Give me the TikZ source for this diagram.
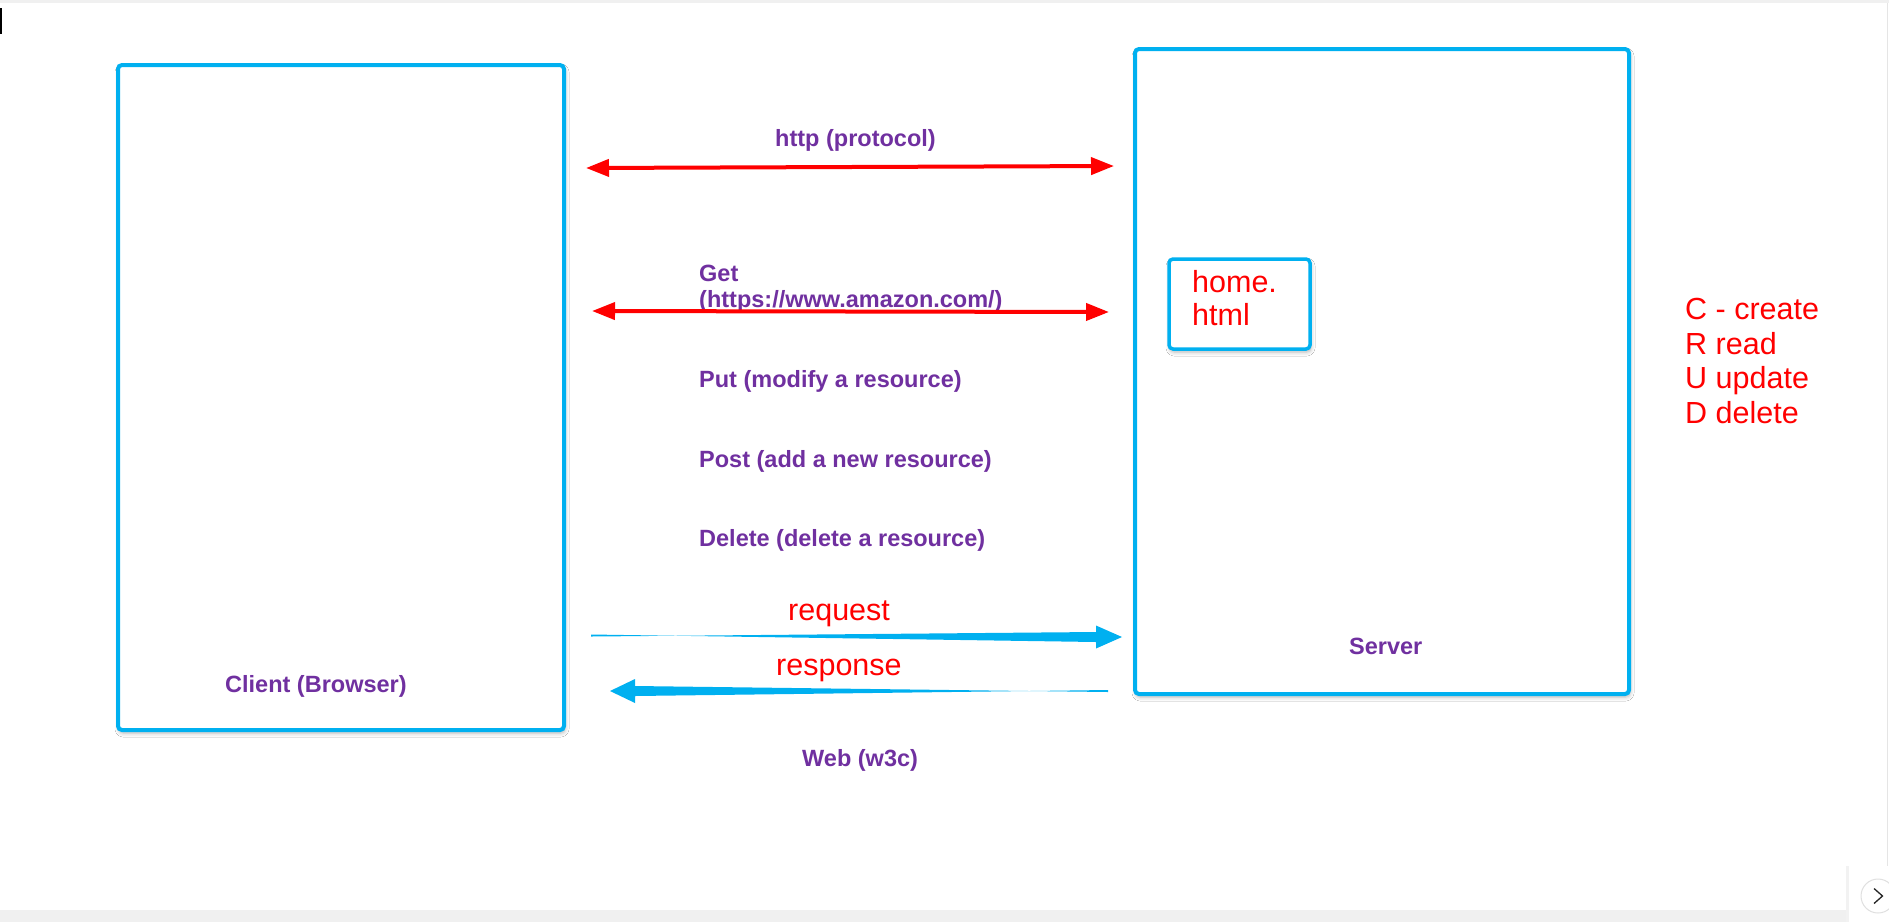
\documentclass[tikz,border=0pt]{standalone}
\usepackage{fontspec}
\setmainfont{Liberation Sans}
\usetikzlibrary{arrows.meta,shadows.blur}
\definecolor{cyanb}{HTML}{00B0F0}
\definecolor{purp}{HTML}{7030A0}
\definecolor{redc}{HTML}{FF0000}
\begin{document}
\begin{tikzpicture}[x=1pt,y=-1pt,
  boxst/.style={draw=cyanb, fill=white, line width=4pt, rounded corners=4pt, inner sep=0pt, outer sep=0pt, anchor=north west,
    blur shadow={shadow xshift=1pt, shadow yshift=-3pt, shadow blur radius=4pt, shadow opacity=30}},
  ptext/.style={anchor=base west, inner sep=0pt, text=purp, font=\fontsize{23.5}{26}\selectfont\bfseries},
  rtext/.style={anchor=base west, inner sep=0pt, text=redc, font=\fontsize{30.5}{34.7}\selectfont},
  redarrow/.style={draw=redc, line width=4pt, {Triangle[length=23pt,width=17pt]}-{Triangle[length=23pt,width=17pt]}},
  bluearrow/.style={fill=cyanb, draw=none},
]
\useasboundingbox (0,0) rectangle (1889,922);
\fill[white] (0,0) rectangle (1889,922);
% screenshot chrome
\fill[black!6] (0,0) rectangle (1889,2.5);
\fill[black!6] (0,910) rectangle (1889,922);
\fill[black] (0,8) rectangle (2,34);
\draw[black!10, line width=1pt] (1887,3) -- (1887,866);
\fill[black!5] (1846,866) rectangle (1849,922);
\fill[white] (1849,866) rectangle (1889,922);
\draw[black!12, fill=white, line width=1pt] (1878,896) circle (17);
\draw[black!85, line width=1.3pt] (1874,888.5) -- (1882.5,896) -- (1874,903.5);

% boxes
\node[boxst, minimum width=446pt, minimum height=665pt] (client) at (118,65) {};
\node[boxst, minimum width=494pt, minimum height=645pt] (server) at (1135,49) {};
\node[boxst, line width=3.5pt, minimum width=141pt, minimum height=90pt] (home) at (1169,259) {};

% labels
\node[ptext] (http) at (775,146) {http (protocol)};
\node[ptext] (get1) at (699,281) {Get};
\node[ptext] (get2) at (699,307) {(https://www.amazon.com/)};
\node[ptext] (put) at (699,387) {Put (modify a resource)};
\node[ptext] (post) at (699,467) {Post (add a new resource)};
\node[ptext] (del) at (699,546) {Delete (delete a resource)};
\node[ptext] (clientlbl) at (225,692) {Client (Browser)};
\node[ptext] (serverlbl) at (1349,654) {Server};
\node[ptext] (web) at (802,766) {Web (w3c)};

\node[rtext] (req) at (788,620) {request};
\node[rtext] (resp) at (776,675) {response};
\node[rtext] (home1) at (1192,292) {home.};
\node[rtext] (home2) at (1192,325) {html};
\node[rtext] (crudC) at (1685,319) {C - create};
\node[rtext] (crudR) at (1685,354) {R read};
\node[rtext] (crudU) at (1685,388) {U update};
\node[rtext] (crudD) at (1685,423) {D delete};

% red double arrows
\coordinate (httpL) at (586,168);
\coordinate (httpR) at (1114,166);
\coordinate (getL) at (592,311);
\coordinate (getR) at (1109,312);
\draw[redarrow] (httpL) -- (httpR);
\draw[redarrow] (getL) -- (getR);

% tapered blue arrows
\coordinate (reqS) at (591,635.5);
\coordinate (reqT) at (1122,637);
\coordinate (respS) at (1108,691);
\coordinate (respT) at (610,691);
\fill[bluearrow] ([yshift=-1pt]reqS) -- (1096,632) -- (1096,625.5) -- (reqT) -- (1096,648.5) -- (1096,642) -- ([yshift=1pt]reqS) -- cycle;
\fill[bluearrow] ([yshift=-1pt]respS) -- (635,686) -- (635,679) -- (respT) -- (635,703) -- (635,696) -- ([yshift=1pt]respS) -- cycle;
\end{tikzpicture}
\end{document}
